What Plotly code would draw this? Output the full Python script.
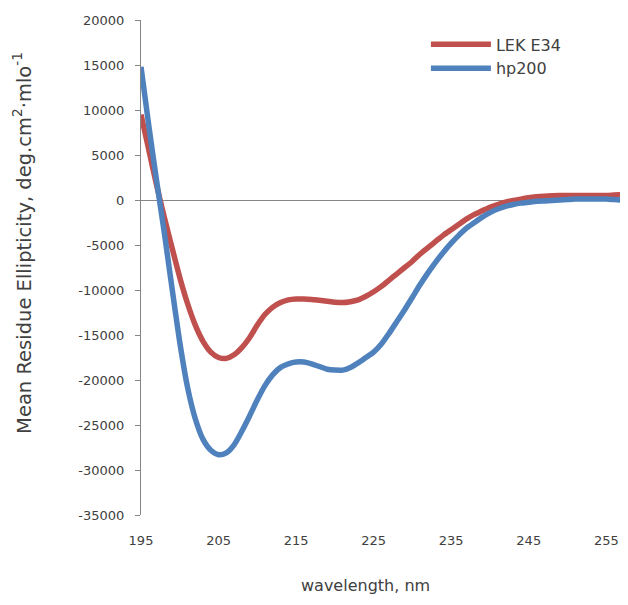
import plotly.graph_objects as go

wavelength = list(range(195, 258))

lek_e34 = [9500, 5600, 1700, -1900, -5300, -8600, -11500, -13900, -15700, -16900,
           -17500, -17600, -17200, -16400, -15300, -13900, -12700, -11900, -11400, -11100,
           -11000, -11000, -11050, -11150, -11250, -11350, -11400, -11300, -11100, -10700,
           -10200, -9600, -8900, -8200, -7500, -6800, -6000, -5300, -4600, -3900,
           -3300, -2700, -2100, -1600, -1200, -800, -500, -250, -50, 100,
           250, 350, 420, 470, 500, 500, 500, 500, 500, 500,
           500, 550, 600]

hp200 = [14800, 8300, 2200, -3600, -9800, -15800, -20800, -24300, -26600, -27800,
         -28300, -28100, -27200, -25700, -24000, -22200, -20600, -19400, -18600, -18200,
         -18000, -18000, -18200, -18500, -18800, -18900, -18900, -18600, -18100, -17500,
         -16900, -16000, -14800, -13500, -12200, -10800, -9400, -8100, -6900, -5800,
         -4800, -3900, -3100, -2500, -1900, -1400, -1000, -700, -500, -350,
         -250, -150, -100, -50, 0, 50, 100, 100, 100, 100,
         100, 50, 0]

x_tick_vals = [195, 205, 215, 225, 235, 245, 255]
y_tick_vals = [20000, 15000, 10000, 5000, 0, -5000, -10000, -15000, -20000, -25000, -30000, -35000]
y_tick_labels = ["20000", "15000", "10000", "5000", "0", "-5000", "-10000", "-15000",
                 "-20000", "-25000", "-30000", "-35000"]

series_names = ["LEK E34", "hp200"]
series_colors = ["#C0504D", "#4F81BD"]

x_title = "wavelength, nm"
y_title = "Mean Residue Ellipticity, deg.cm<sup>2</sup>·mlo<sup>-1</sup>"

fig = go.Figure()
for name, vals, col in zip(series_names, [lek_e34, hp200], series_colors):
    fig.add_trace(go.Scatter(x=wavelength, y=vals, mode="lines", name=name,
                             line=dict(color=col, width=5.5, shape="spline", smoothing=0.7)))

font_main = "'DejaVu Sans', sans-serif"
axis_gray = "#868686"
text_col = "#404040"

y_min, y_max = -35000, 20000
x_min, x_max = 195, 257.8
zero_pos = (0 - y_min) / (y_max - y_min)

# the page body adds an 8px offset; keep the page within the window so no scrollbar appears
fig.update_layout(
    width=620, height=589,
    margin=dict(l=133, r=0, t=12, b=82),
    paper_bgcolor="white", plot_bgcolor="white",
    font=dict(family=font_main, size=13, color=text_col),
    showlegend=True,
    legend=dict(x=0.585, y=0.985, xanchor="left", yanchor="top",
                bgcolor="rgba(0,0,0,0)", font=dict(size=16, color=text_col),
                itemwidth=60, tracegroupgap=0),
    xaxis=dict(range=[x_min, x_max], tickvals=x_tick_vals, showgrid=False, zeroline=False,
               showline=False, ticks="", automargin=False, ticklabelstandoff=16,
               tickfont=dict(size=13, color=text_col)),
    xaxis2=dict(range=[x_min, x_max], matches="x", overlaying="x", anchor="free", position=zero_pos,
                side="bottom", tickvals=x_tick_vals, showticklabels=False, showgrid=False,
                zeroline=False, showline=False, ticks="outside", ticklen=5, tickcolor=axis_gray),
    yaxis=dict(range=[y_min, y_max], tickvals=y_tick_vals, ticktext=y_tick_labels,
               showgrid=False, zeroline=True, zerolinecolor=axis_gray, zerolinewidth=1,
               showline=True, linecolor=axis_gray, linewidth=1, ticks="outside", ticklen=5,
               tickcolor=axis_gray, automargin=False, ticklabelstandoff=8,
               tickfont=dict(size=13, color=text_col)),
    annotations=[
        dict(text=y_title, textangle=-90, xref="paper", yref="paper",
             x=-0.244, y=0.55, xanchor="center", yanchor="middle", showarrow=False,
             font=dict(family=font_main, size=19.5, color=text_col)),
        dict(text=x_title, xref="paper", yref="paper",
             x=0.461, y=-0.142, xanchor="center", yanchor="middle", showarrow=False,
             font=dict(family=font_main, size=16, color=text_col)),
    ],
)

fig.write_html("out.html")
